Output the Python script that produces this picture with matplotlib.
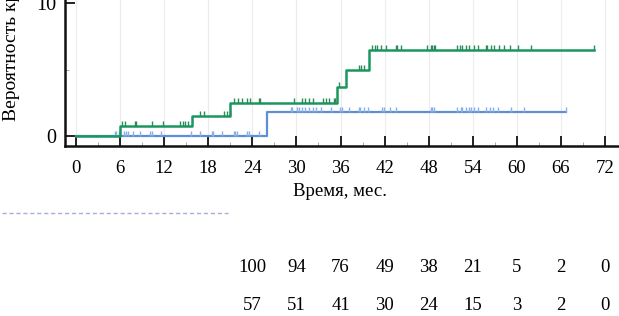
import numpy as np
import matplotlib
matplotlib.use("Agg")
import matplotlib.pyplot as plt
from matplotlib.transforms import blended_transform_factory

plt.rcParams['font.family'] = ['Liberation Serif', 'DejaVu Serif']

# ---- data ----
green_times = [0, 6.0, 15.8, 21.0, 35.5, 36.7, 39.9]
green_vals = [0, 0.75, 1.5, 2.45, 3.7, 4.96, 6.47]
green_end = 70.5
green_cens = [6.2, 6.7, 8.0, 8.2, 10.3, 11.9, 14.2, 14.6, 14.9, 15.2,
              16.9, 17.4, 20.1, 20.6, 20.9,
              21.5, 22.1, 22.6, 23.3, 23.7, 24.9, 25.0, 29.6, 30.8, 31.2, 31.7, 32.2,
              33.6, 34.0, 34.4, 35.1, 35.3,
              35.8, 38.5, 38.8, 39.2,
              40.3, 40.7, 41.0, 41.5, 42.2, 43.5, 43.7, 44.2, 47.8, 48.3, 48.5, 48.7, 48.9,
              51.9, 52.3, 52.6, 53.1, 53.5, 54.2, 54.7, 55.8, 56.0, 56.5, 56.9, 57.6,
              58.3, 59.0, 60.1, 61.9, 70.5]

blue_times = [0, 26.0]
blue_vals = [0, 1.83]
blue_end = 66.7
blue_cens = [5.3, 5.5, 5.8, 6.5, 6.8, 7.1, 7.8, 8.7, 10.1, 10.3, 11.5, 15.6, 16.9,
             18.5, 18.7, 19.9, 21.5, 21.7, 21.9, 23.3, 23.5, 24.9,
             29.2, 29.4, 30.1, 30.4, 30.8, 31.2, 31.7, 32.2, 32.6, 33.3, 34.7, 35.9,
             36.2, 37.1, 38.5, 38.7, 39.2, 39.7, 41.7, 41.9, 42.8, 43.5, 48.3, 48.5,
             48.7, 51.9, 52.4, 52.6, 53.1, 53.5, 53.8, 54.2, 54.7, 55.8, 56.3, 56.7,
             57.4, 59.2, 61.0, 66.7]

risk_times = [24, 30, 36, 42, 48, 54, 60, 66, 72]
risk_row1 = [100, 94, 76, 49, 38, 21, 5, 2, 0]
risk_row2 = [57, 51, 41, 30, 24, 15, 3, 2, 0]

xticks = list(range(0, 73, 6))
yticks = [0, 10]
xlabel = "Время, мес."
ylabel = "Вероятность кр"

GREEN = '#1a9660'
GREEN_M = '#2a8a58'
BLUE = '#5d8fd8'
BLUE_M = '#8aaee6'
FS = 13.5


def step_value(times, vals, t):
    idx = np.searchsorted(times, t, side='right') - 1
    return np.asarray(vals)[idx]


fig = plt.figure(figsize=(6.19, 3.16), dpi=100)
ax = fig.add_axes([65 / 619, 1 - 146 / 316, 1 - 65 / 619, 147 / 316])
ax.set_xlim(-1.5, 73.9)
ax.set_ylim(-0.75, 10.3)

for x in xticks:
    ax.axvline(x, color='#ececec', lw=0.8, zorder=0)

# blue curve
bx = blue_times + [blue_end]
by = blue_vals + [blue_vals[-1]]
ax.step(bx, by, where='post', color=BLUE, lw=1.6, zorder=3)
bc = np.array(blue_cens)
bcy = step_value(blue_times, blue_vals, bc)
ax.vlines(bc, bcy, bcy + 0.38, color=BLUE_M, lw=1.0, zorder=3)

# green curve
gx = green_times + [green_end]
gy = green_vals + [green_vals[-1]]
ax.step(gx, gy, where='post', color=GREEN, lw=1.8, zorder=4)
gc = np.array(green_cens)
gcy = step_value(green_times, green_vals, gc)
ax.vlines(gc, gcy, gcy + 0.38, color=GREEN_M, lw=1.0, zorder=4)

for s in ['top', 'right']:
    ax.spines[s].set_visible(False)
for s in ['left', 'bottom']:
    ax.spines[s].set_linewidth(1.8)
    ax.spines[s].set_color('#111111')

ax.set_xticks(xticks)
ax.set_xticks(np.arange(3, 73, 6), minor=True)
ax.set_yticks(yticks)
ax.set_yticks([5], minor=True)
ax.tick_params(axis='both', which='major', direction='in', length=7, width=1.3,
               labelsize=FS, color='#111111')
ax.tick_params(axis='both', which='minor', direction='in', length=3, width=0.6,
               color='#999999')
ax.tick_params(axis='x', which='major', pad=10)
ax.tick_params(axis='y', which='major', pad=6, labelsize=FS + 1)

fig.text(340 / 619, 1 - 192 / 316, xlabel, ha='center', va='center', fontsize=FS)
fig.text(12 / 619, 1 - 121 / 316, ylabel, ha='center', va='bottom', rotation=90,
         fontsize=FS + 0.5)

# cut-off remnant line
fig.add_artist(plt.Line2D([2 / 619, 228 / 619], [1 - 213 / 316, 1 - 213 / 316],
                          color='#a7aed6', lw=1.0, ls=(0, (3, 2))))

tr = blended_transform_factory(ax.transData, fig.transFigure)
for t, a, b in zip(risk_times, risk_row1, risk_row2):
    ax.text(t, 1 - 268 / 316, str(a), transform=tr, ha='center', va='center',
            fontsize=FS, clip_on=False)
    ax.text(t, 1 - 305 / 316, str(b), transform=tr, ha='center', va='center',
            fontsize=FS, clip_on=False)

fig.savefig('out.png', dpi=100)
